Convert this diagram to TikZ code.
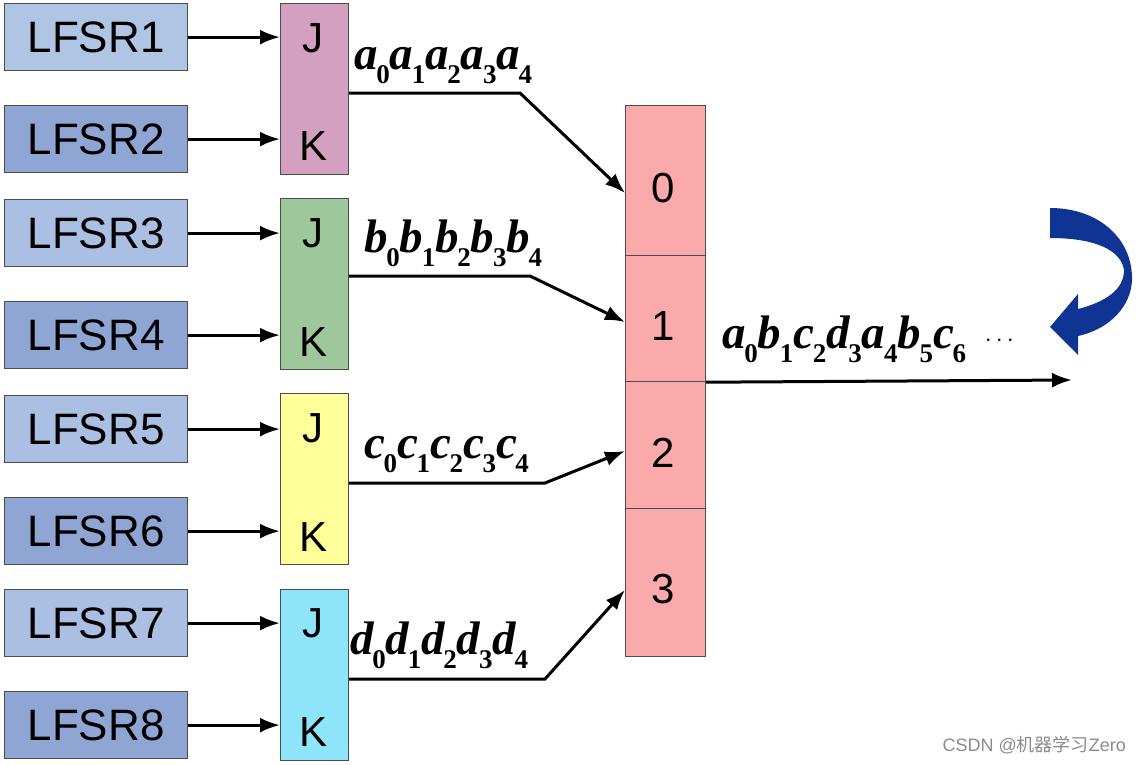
\documentclass[tikz,border=0pt]{standalone}
\usepackage{fontspec}
\setmainfont{Liberation Sans}
\newfontfamily\tnr{Liberation Serif}
\newfontfamily\cjk{Noto Sans CJK SC}
\usetikzlibrary{arrows.meta}
\definecolor{lfsrA}{RGB}{176,196,228}
\definecolor{lfsrB}{RGB}{143,166,212}
\definecolor{jkpink}{RGB}{212,160,192}
\definecolor{jkgreen}{RGB}{158,200,156}
\definecolor{jkyellow}{RGB}{255,255,153}
\definecolor{jkcyan}{RGB}{142,228,248}
\definecolor{regpink}{RGB}{250,170,170}
\definecolor{curvblue}{RGB}{16,52,148}
\newcommand{\sv}[2]{#1\kern-0.03em\raisebox{-0.3em}{\fontsize{27}{27}\selectfont\upshape\bfseries #2}}
\newcommand{\seqfont}{\tnr\bfseries\itshape\fontsize{47}{47}\selectfont}
\begin{document}
\begin{tikzpicture}[x=1pt,y=-1pt,
  lfsr/.style={draw=black!70,line width=1.2pt,minimum width=183pt,minimum height=67pt,inner sep=0pt,anchor=north west,font=\fontsize{44}{44}\selectfont},
  jk/.style={draw=black!70,line width=1.2pt,minimum width=68pt,minimum height=171pt,inner sep=0pt,anchor=north west},
  pin/.style={font=\fontsize{42}{42}\selectfont,inner sep=0pt},
  reg/.style={draw=black!70,line width=1.2pt,fill=regpink,minimum width=80pt,inner sep=0pt,anchor=north west},
  conn/.style={line width=3pt,-{Latex[length=20pt,width=15pt]}},
  seq/.style={font=\seqfont,inner sep=0pt,anchor=south west}]
\useasboundingbox (0,0) rectangle (1140,764);
\fill[white] (0,0) rectangle (1140,764);
% LFSR boxes
\node[lfsr,fill=lfsrA] (l1) at (4,3) {LFSR1};
\node[lfsr,fill=lfsrB] (l2) at (4,105) {LFSR2};
\node[lfsr,fill=lfsrA!85!lfsrB] (l3) at (4,199) {LFSR3};
\node[lfsr,fill=lfsrB] (l4) at (4,301) {LFSR4};
\node[lfsr,fill=lfsrA!85!lfsrB] (l5) at (4,395) {LFSR5};
\node[lfsr,fill=lfsrB] (l6) at (4,497) {LFSR6};
\node[lfsr,fill=lfsrA!85!lfsrB] (l7) at (4,589) {LFSR7};
\node[lfsr,fill=lfsrB] (l8) at (4,691) {LFSR8};
% JK boxes
\node[jk,fill=jkpink] (k1) at (280,3) {};
\node[jk,fill=jkgreen] (k2) at (280,198) {};
\node[jk,fill=jkyellow] (k3) at (280,393) {};
\node[jk,fill=jkcyan] (k4) at (280,589) {};
\node[pin] (j1) at (313,38) {J};  \node[pin] (q1) at (314,146) {K};
\node[pin] (j2) at (313,233) {J}; \node[pin] (q2) at (314,342) {K};
\node[pin] (j3) at (313,428) {J}; \node[pin] (q3) at (314,537) {K};
\node[pin] (j4) at (313,623) {J}; \node[pin] (q4) at (314,732) {K};
% inputs
\draw[conn] (l1.east) -- (l1.east -| k1.west);
\draw[conn] (l2.east) -- (l2.east -| k1.west);
\draw[conn] (l3.east) -- (l3.east -| k2.west);
\draw[conn] (l4.east) -- (l4.east -| k2.west);
\draw[conn] (l5.east) -- (l5.east -| k3.west);
\draw[conn] (l6.east) -- (l6.east -| k3.west);
\draw[conn] (l7.east) -- (l7.east -| k4.west);
\draw[conn] (l8.east) -- (l8.east -| k4.west);
% register
\node[reg,minimum height=150pt] (r0) at (625,105) {};
\node[reg,minimum height=126pt] (r1) at (625,255) {};
\node[reg,minimum height=127pt] (r2) at (625,381) {};
\node[reg,minimum height=148pt] (r3) at (625,508) {};
\node[pin] (d0) at (663,188) {0};
\node[pin] (d1) at (663,326) {1};
\node[pin] (d2) at (663,453) {2};
\node[pin] (d3) at (663,589) {3};
% bends and targets
\coordinate (b1) at (520,93);  \coordinate (t1) at (0,193);
\coordinate (b2) at (530,276); \coordinate (t2) at (0,322);
\coordinate (b3) at (545,483); \coordinate (t3) at (0,451);
\coordinate (b4) at (545,679); \coordinate (t4) at (0,590);
\draw[conn] (k1.east |- b1) -- (b1) -- (r0.west |- t1);
\draw[conn] (k2.east |- b2) -- (b2) -- (r1.west |- t2);
\draw[conn] (k3.east |- b3) -- (b3) -- (r2.west |- t3);
\draw[conn] (k4.east |- b4) -- (b4) -- (r3.west |- t4);
\node[seq] (s1) at (354,84) {\sv{a}{0}\sv{a}{1}\sv{a}{2}\sv{a}{3}\sv{a}{4}};
\node[seq] (s2) at (364,267) {\sv{b}{0}\sv{b}{1}\sv{b}{2}\sv{b}{3}\sv{b}{4}};
\node[seq] (s3) at (364,473) {\sv{c}{0}\sv{c}{1}\sv{c}{2}\sv{c}{3}\sv{c}{4}};
\node[seq] (s4) at (350,669) {\sv{d}{0}\sv{d}{1}\sv{d}{2}\sv{d}{3}\sv{d}{4}};
% output
\coordinate (out) at (1072,380);
\draw[conn] (r1.south east) -- (out);
\node[seq] (so) at (722,363) {\sv{a}{0}\sv{b}{1}\sv{c}{2}\sv{d}{3}\sv{a}{4}\sv{b}{5}\sv{c}{6}\hspace{0.4em}\raisebox{0.05em}{\fontsize{36}{36}\selectfont\upshape\mdseries$\cdots$}};
% curved arrow
\fill[curvblue] (1050,208) .. controls (1100,208) and (1133,240) .. (1132,280)
  .. controls (1131,306) and (1110,329) .. (1078,336)
  -- (1078,355) -- (1050,327) -- (1078,294) -- (1078,309)
  .. controls (1105,302) and (1124,290) .. (1124,270)
  .. controls (1121,250) and (1095,238) .. (1050,238) -- cycle;
% watermark
\node[text=black!45,font=\fontsize{18}{18}\selectfont,anchor=east,inner sep=0pt] (wm) at (1126,745) {CSDN @{\cjk 机器学习}Zero};
\end{tikzpicture}
\end{document}
